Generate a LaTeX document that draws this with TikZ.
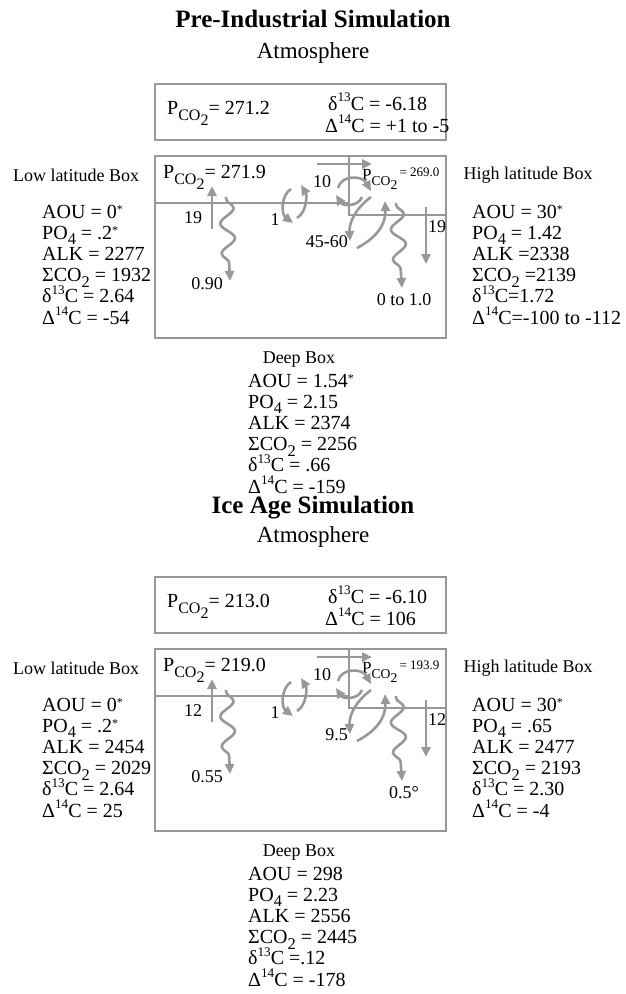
\documentclass[tikz,border=0pt]{standalone}
\usepackage{fontspec}
\setmainfont{Liberation Serif}
\usepackage{graphicx}
\usetikzlibrary{arrows.meta,decorations.pathmorphing}
\definecolor{lg}{RGB}{152,152,152}
\newcommand\sbx[1]{\smash{\raisebox{-0.28em}{\scalebox{0.82}{#1}}}}
\newcommand\spx[1]{\smash{\raisebox{0.42em}{\scalebox{0.66}{#1}}}}
\newcommand\astr{\smash{\raisebox{0.25em}{\scalebox{0.6}{*}}}}
\newcommand\pco{P\smash{\raisebox{-0.32em}{\scalebox{0.8}{CO\raisebox{-0.32em}{2}}}}}
\newcommand\pcosmall[1]{{\fontsize{17}{17}\selectfont P\smash{\raisebox{-0.32em}{\scalebox{0.8}{CO\raisebox{-0.32em}{2}}}}}\raisebox{0.35em}{\fontsize{13}{13}\selectfont\,= #1}}
\tikzset{
  frame/.style={draw=lg, line width=2.6pt},
  flow/.style={draw=lg, line width=2.6pt, -{Triangle[length=10pt,width=9pt]}},
  wavy/.style={draw=lg, line width=2.6pt, -{Triangle[length=10pt,width=9pt]},
    decorate, decoration={snake, amplitude=7pt, segment length=30pt, pre length=2pt, post length=14pt}},
  dat/.style={font=\fontsize{20}{22}\selectfont, inner sep=0pt},
  lab/.style={font=\fontsize{18}{20}\selectfont, inner sep=0pt},
  ttl/.style={font=\fontsize{25}{28}\selectfont\bfseries, inner sep=0pt, anchor=base},
  sub/.style={font=\fontsize{23}{26}\selectfont, inner sep=0pt, anchor=base},
}
\newcommand\datablock[5]{%
  \foreach \t [count=\i] in {#4} {\node[dat, anchor=base west] (#5-\i) at (#1,{#2+#3*(\i-1)}) {\t};}}
\newcommand\ocean[8]{%
  % boxes
  \draw[frame] (155,84) rectangle (446,140);
  \draw[frame] (155,156) rectangle (446,338);
  \draw[frame] (155,203) -- (349,203);
  \draw[frame] (349,156) -- (349,215) -- (446,215);
  % atmosphere texts
  \node[dat, anchor=base west] (apco) at (167,114) {\pco= #7};
  \node[dat, anchor=base west] (ad13) at (328,110) {δ\spx{13}C = #8};
  % ocean texts
  \node[dat, anchor=base west] (lpco) at (163,178) {\pco= #1};
  \node[inner sep=0pt, anchor=base west] (hpco) at (362,180) {\pcosmall{#2}};
  % upwelling arrow
  \coordinate (u1) at (212,229); \coordinate (u2) at (212,186);
  \draw[flow] (u1) -- (u2);
  \node[lab] (ulab) at (193,218) {#3};
  % left wavy
  \coordinate (w1) at (226,197); \coordinate (w2) at (230,281);
  \draw[wavy] (w1) -- (w2);
  \node[lab] (wlab) at (207,284) {#4};
  % exchange 1
  \coordinate (e1) at (291,189); \coordinate (e2) at (293,223);
  \coordinate (e3) at (297,218); \coordinate (e4) at (301,185);
  \draw[flow] (e1) .. controls (281,195) and (281,214) .. (e2);
  \draw[flow] (e3) .. controls (307,212) and (307,195) .. (e4);
  \node[lab] (elab) at (275,220) {1};
  % exchange 10
  \coordinate (f1) at (338,188); \coordinate (f2) at (371,191);
  \coordinate (f3) at (362,197); \coordinate (f4) at (336,195);
  \draw[flow] (f1) .. controls (341,175) and (362,175) .. (f2);
  \draw[flow] (f3) .. controls (358,207) and (343,206) .. (f4);
  \node[lab] (flab) at (322,182) {10};
  % top horizontal
  \coordinate (h1) at (317,164); \coordinate (h2) at (372,164);
  \draw[flow] (h1) -- (h2);
  % 45-60 exchange
  \coordinate (g1) at (371,197); \coordinate (g2) at (350,241);
  \coordinate (g3) at (357,248); \coordinate (g4) at (385,201);
  \draw[flow] (g1) .. controls (356,208) and (349,222) .. (g2);
  \draw[flow] (g3) .. controls (376,238) and (386,225) .. (g4);
  \node[lab, anchor=east] (glab) at (348,242) {#5};
  % right wavy
  \coordinate (v1) at (396,203); \coordinate (v2) at (402,288);
  \draw[wavy] (v1) -- (v2);
  \node[lab] (vlab) at (404,300) {#6};
  % sinking
  \coordinate (s1) at (426,207); \coordinate (s2) at (426,264);
  \draw[flow] (s1) -- (s2);
  \node[lab] (slab) at (437,227) {#3};
}
\begin{document}
\begin{tikzpicture}[x=1pt,y=-1pt]
\useasboundingbox (0,0) rectangle (626,994);
% ---------- Pre-industrial ----------
\node[ttl] (t1) at (313,27) {Pre-Industrial Simulation};
\node[sub] (at1) at (313,58) {Atmosphere};
\begin{scope}[name prefix=a-]
  \ocean{271.9}{269.0}{19}{0.90}{45-60}{0 to 1.0}{271.2}{-6.18}
  \node[dat, anchor=base west] (ad14) at (325,132) {Δ\spx{14}C = +1 to -5};
  \node[lab] (ltit) at (76,175) {Low latitude Box};
  \datablock{42}{218}{21.2}{{AOU = 0\astr},{PO\sbx{4} = .2\astr},{ALK = 2277},{ΣCO\sbx{2} = 1932},{δ\spx{13}C = 2.64},{Δ\spx{14}C = -54}}{L}
  \node[lab] (htit) at (528,175) {High latitude Box};
  \datablock{472}{218}{21.2}{{AOU = 30\astr},{PO\sbx{4} = 1.42},{ALK =2338},{ΣCO\sbx{2} =2139},{δ\spx{13}C=1.72},{Δ\spx{14}C=-100 to -112}}{H}
  \node[lab] (dtit) at (299,360) {Deep Box};
  \datablock{248}{387}{21.2}{{AOU = 1.54\astr},{PO\sbx{4} = 2.15},{ALK = 2374},{ΣCO\sbx{2} = 2256},{δ\spx{13}C = .66},{Δ\spx{14}C = -159}}{D}
\end{scope}
% ---------- Ice age ----------
\node[ttl] (t2) at (313,513) {Ice Age Simulation};
\node[sub] (at2) at (313,542) {Atmosphere};
\begin{scope}[shift={(0,493)}, name prefix=b-]
  \ocean{219.0}{193.9}{12}{0.55}{9.5}{0.5°}{213.0}{-6.10}
  \node[dat, anchor=base west] (ad14) at (325,132) {Δ\spx{14}C = 106};
  \node[lab] (ltit) at (76,175) {Low latitude Box};
  \datablock{42}{218}{21.2}{{AOU = 0\astr},{PO\sbx{4} = .2\astr},{ALK = 2454},{ΣCO\sbx{2} = 2029},{δ\spx{13}C = 2.64},{Δ\spx{14}C = 25}}{L}
  \node[lab] (htit) at (528,175) {High latitude Box};
  \datablock{472}{218}{21.2}{{AOU = 30\astr},{PO\sbx{4} = .65},{ALK = 2477},{ΣCO\sbx{2} = 2193},{δ\spx{13}C = 2.30},{Δ\spx{14}C = -4}}{H}
  \node[lab] (dtit) at (299,360) {Deep Box};
  \datablock{248}{387}{21.2}{{AOU = 298},{PO\sbx{4} = 2.23},{ALK = 2556},{ΣCO\sbx{2} = 2445},{δ\spx{13}C =.12},{Δ\spx{14}C = -178}}{D}
\end{scope}
\end{tikzpicture}
\end{document}
